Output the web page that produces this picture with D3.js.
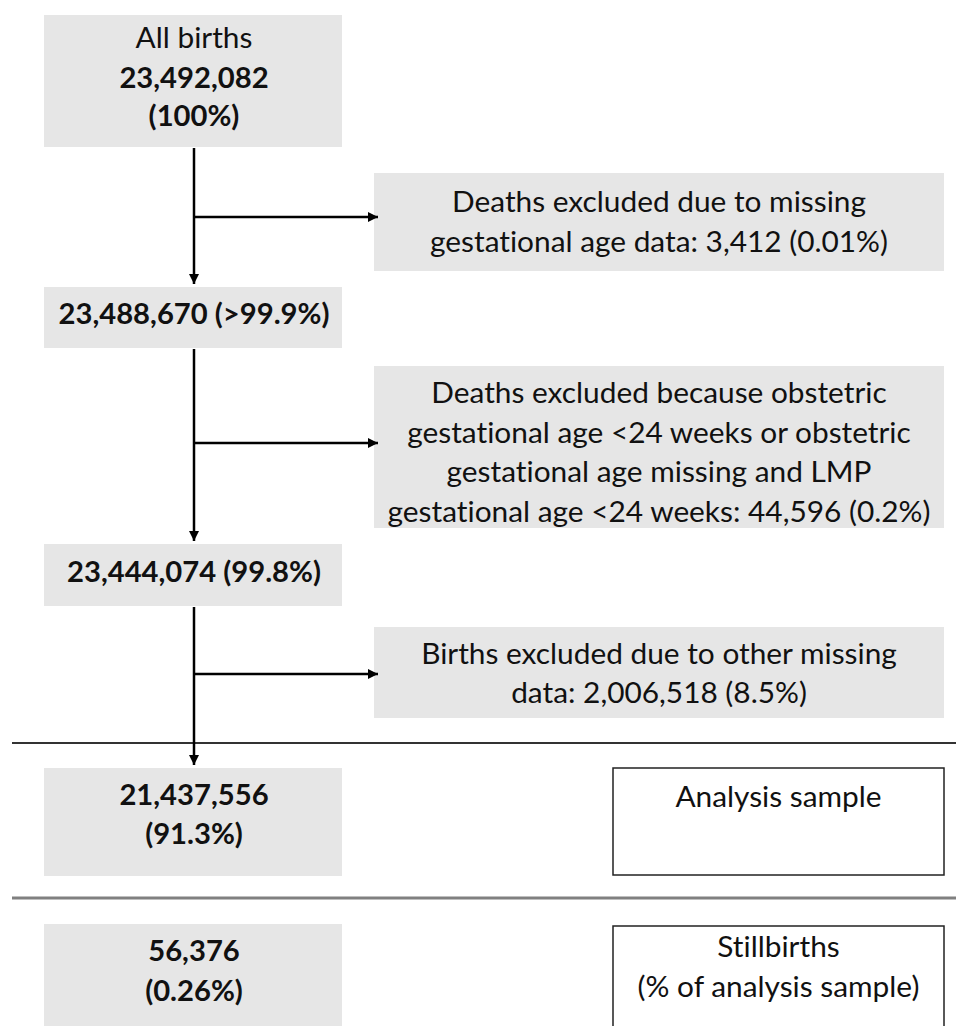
<!DOCTYPE html>
<html>
<head>
<meta charset="utf-8">
<script src="https://cdn.jsdelivr.net/npm/d3@7"></script>
<style>
  body { margin: 0; background: #fff; }
  text { font-family: Lato, "Open Sans", sans-serif; fill: #111;
         font-variant-ligatures: none; font-feature-settings: "liga" 0, "clig" 0; }
</style>
</head>
<body>
<script>
// flow chart values
var stepTitles = ["All births", null, null, null, null];
var stepCounts = ["23,492,082", "23,488,670", "23,444,074", "21,437,556", "56,376"];
var stepPcts   = ["(100%)", "(>99.9%)", "(99.8%)", "(91.3%)", "(0.26%)"];
var stepOneLine = [false, true, true, false, false];

var exclusionLines = [
    ["Deaths excluded due to missing",
     "gestational age data: 3,412 (0.01%)"],
    ["Deaths excluded because obstetric",
     "gestational age <24 weeks or obstetric",
     "gestational age missing and LMP",
     "gestational age <24 weeks: 44,596 (0.2%)"],
    ["Births excluded due to other missing",
     "data: 2,006,518 (8.5%)"]
];

var rowLabels = [
    ["Analysis sample"],
    ["Stillbirths", "(% of analysis sample)"]
];

var width = 956, height = 1026;

var svg = d3.select("body").append("svg")
    .attr("width", width)
    .attr("height", height);

// pick font sizes so the line widths come close to the picture
function fitSize(str, weight, target) {
    var t = svg.append("text").attr("font-size", 100)
        .attr("font-weight", weight).text(str);
    var w = t.node().getComputedTextLength();
    t.remove();
    return 100 * target / w;
}
var regSize = fitSize(exclusionLines[0][0], "normal", 414);
var boldSize = fitSize(stepCounts[1] + " " + stepPcts[1], "bold", 271);

// layout of the left column
var mainX = 44, mainW = 298, mainCx = 194;
var mainBoxes = [
    {top: 15,  bottom: 147, lines: [37, 77, 115]},
    {top: 287, bottom: 348, lines: [313]},
    {top: 544, bottom: 606, lines: [571]},
    {top: 768, bottom: 876, lines: [794, 833]},
    {top: 924, bottom: 1040, lines: [950, 990]}
];
var sideX = 374, sideW = 570;
var sideBoxes = [
    {top: 173, bottom: 271, branch: 217, lines: [201, 241]},
    {top: 366, bottom: 528, branch: 443, lines: [392, 432, 471, 511]},
    {top: 627, bottom: 718, branch: 674, lines: [653, 692]}
];
var labelX = 613, labelW = 331;
var labelBoxes = [
    {top: 768, bottom: 875, lines: [796]},
    {top: 926, bottom: 1040, lines: [946, 986]}
];

svg.append("defs").append("marker")
    .attr("id", "arrow")
    .attr("viewBox", "0 0 10 10")
    .attr("refX", 10).attr("refY", 5)
    .attr("markerWidth", 4).attr("markerHeight", 4)
    .attr("markerUnits", "strokeWidth")
    .attr("orient", "auto")
  .append("path")
    .attr("d", "M0,0 L10,5 L0,10 z")
    .attr("fill", "#000");

// separators between the sections
svg.append("line")
    .attr("x1", 12).attr("x2", width)
    .attr("y1", 743).attr("y2", 743)
    .attr("stroke", "#333").attr("stroke-width", 2);
svg.append("line")
    .attr("x1", 12).attr("x2", width)
    .attr("y1", 898).attr("y2", 898)
    .attr("stroke", "#808080").attr("stroke-width", 3);

// main boxes
var main = svg.selectAll("g.step")
    .data(mainBoxes)
    .enter().append("g")
    .attr("class", "step");

main.append("rect")
    .attr("x", mainX)
    .attr("y", function(d) { return d.top; })
    .attr("width", mainW)
    .attr("height", function(d) { return d.bottom - d.top; })
    .attr("fill", "#e6e6e6");

main.each(function(d, i) {
    var g = d3.select(this);
    var lines = [];
    if (stepTitles[i]) lines.push({s: stepTitles[i], b: false});
    if (stepOneLine[i]) {
        lines.push({s: stepCounts[i] + " " + stepPcts[i], b: true});
    } else {
        lines.push({s: stepCounts[i], b: true});
        lines.push({s: stepPcts[i], b: true});
    }
    g.selectAll("text").data(lines).enter().append("text")
        .attr("x", mainCx)
        .attr("y", function(l, j) { return d.lines[j]; })
        .attr("dy", "0.36em")
        .attr("text-anchor", "middle")
        .attr("font-size", function(l) { return l.b ? boldSize : regSize; })
        .attr("font-weight", function(l) { return l.b ? "bold" : "normal"; })
        .text(function(l) { return l.s; });
});

// exclusion boxes on the right
var side = svg.selectAll("g.excl")
    .data(sideBoxes)
    .enter().append("g")
    .attr("class", "excl");

side.append("rect")
    .attr("x", sideX)
    .attr("y", function(d) { return d.top; })
    .attr("width", sideW)
    .attr("height", function(d) { return d.bottom - d.top; })
    .attr("fill", "#e6e6e6");

side.each(function(d, i) {
    d3.select(this).selectAll("text")
        .data(exclusionLines[i])
        .enter().append("text")
        .attr("x", sideX + sideW / 2)
        .attr("y", function(s, j) { return d.lines[j]; })
        .attr("dy", "0.36em")
        .attr("text-anchor", "middle")
        .attr("font-size", regSize)
        .text(function(s) { return s; });
});

// white label boxes
var lab = svg.selectAll("g.label")
    .data(labelBoxes)
    .enter().append("g")
    .attr("class", "label");

lab.append("rect")
    .attr("x", labelX)
    .attr("y", function(d) { return d.top; })
    .attr("width", labelW)
    .attr("height", function(d) { return d.bottom - d.top; })
    .attr("fill", "#fff")
    .attr("stroke", "#222")
    .attr("stroke-width", 1.5);

lab.each(function(d, i) {
    d3.select(this).selectAll("text")
        .data(rowLabels[i])
        .enter().append("text")
        .attr("x", labelX + labelW / 2)
        .attr("y", function(s, j) { return d.lines[j]; })
        .attr("dy", "0.36em")
        .attr("text-anchor", "middle")
        .attr("font-size", regSize)
        .text(function(s) { return s; });
});

// arrows: down from each of the first three boxes, branching right
var arrowW = 2.5;
for (var k = 0; k < 3; k++) {
    var from = mainBoxes[k], to = mainBoxes[k + 1], sb = sideBoxes[k];
    svg.append("line")
        .attr("x1", mainCx).attr("x2", mainCx)
        .attr("y1", from.bottom + 1).attr("y2", to.top - 3)
        .attr("stroke", "#000").attr("stroke-width", arrowW)
        .attr("marker-end", "url(#arrow)");
    svg.append("line")
        .attr("x1", mainCx).attr("x2", sideX + 4)
        .attr("y1", sb.branch).attr("y2", sb.branch)
        .attr("stroke", "#000").attr("stroke-width", arrowW)
        .attr("marker-end", "url(#arrow)");
}
</script>
</body>
</html>
